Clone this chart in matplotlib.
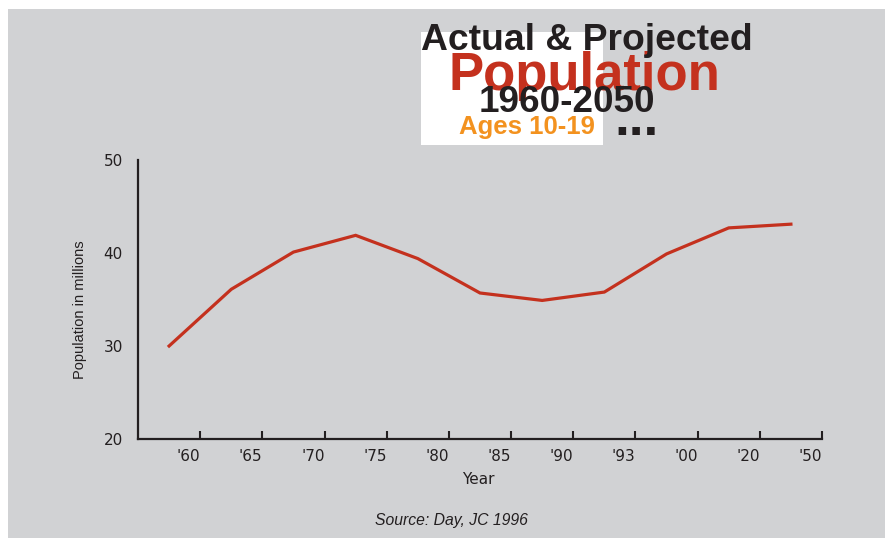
import matplotlib
matplotlib.use("Agg")
import matplotlib.pyplot as plt
import matplotlib.patches as mpatches

# data
tick_labels = ["'60", "'65", "'70", "'75", "'80", "'85", "'90", "'93", "'00", "'20", "'50"]
population = [30.0, 36.1, 40.1, 41.9, 39.4, 35.7, 34.9, 35.8, 39.9, 42.7, 43.1]

W, H = 885, 538
GRAY = "#d1d2d4"
RED = "#c4311e"
ORANGE = "#f3921f"
INK = "#231f20"

plt.rcParams["font.family"] = ["Liberation Sans", "DejaVu Sans"]
WIDE = ["DejaVu Sans"]

fig = plt.figure(figsize=(W / 100, H / 100), dpi=100)
fig.patch.set_facecolor("white")

# gray panel and white title box
fig.patches.append(mpatches.Rectangle((8 / W, 0), 1, 1 - 9 / H, transform=fig.transFigure,
                                      facecolor=GRAY, edgecolor="none", zorder=-10))
fig.patches.append(mpatches.Rectangle((421 / W, 1 - 145 / H), 182 / W, 113 / H,
                                      transform=fig.transFigure, facecolor="white",
                                      edgecolor="none", zorder=-9))

ax = fig.add_axes([138 / W, 1 - 439 / H, 684 / W, 279 / H])
ax.set_facecolor("none")

xs = [i + 0.5 for i in range(len(population))]
ax.plot(xs, population, color=RED, linewidth=2.3, solid_joinstyle="miter")

ax.set_xlim(0, len(tick_labels))
ax.set_ylim(20, 50)
ax.set_xticks(range(1, len(tick_labels) + 1))
ax.set_xticklabels(tick_labels, fontsize=11, color=INK, family=WIDE, ha="right")
ax.set_yticks([20, 30, 40, 50])
ax.set_yticklabels(["20", "30", "40", "50"], fontsize=11, color=INK, family=WIDE)
ax.tick_params(axis="x", direction="in", length=6, width=1.5, color=INK, pad=7)
ax.tick_params(axis="y", length=0, pad=11)

for s in ["top", "right"]:
    ax.spines[s].set_visible(False)
for s in ["left", "bottom"]:
    ax.spines[s].set_linewidth(1.6)
    ax.spines[s].set_color(INK)

ax.set_xlabel("Year", fontsize=11, color=INK, family=WIDE)
ax.xaxis.set_label_coords((478 - 138) / 684, -(472 - 439) / 279)
fig.text(80 / W, 1 - 310 / H, "Population in millions", rotation=90, fontsize=10.5,
         family=["Liberation Sans Narrow", "Liberation Sans"], color=INK,
         ha="center", va="center")

# title block
fig.text(584 / W, 1 - 90 / H, "Population", fontsize=38, fontweight="bold", color=RED,
         ha="center", va="baseline")
fig.text(587 / W, 1 - 50 / H, "Actual & Projected", fontsize=26.8, fontweight="bold",
         color=INK, ha="center", va="baseline")
fig.text(567 / W, 1 - 112 / H, "1960-2050", fontsize=26.6, fontweight="bold", color=INK,
         ha="center", va="baseline")
fig.text(527 / W, 1 - 134 / H, "Ages 10-19", fontsize=18.5, fontweight="bold", color=ORANGE,
         ha="center", va="baseline")
fig.text(636 / W, 1 - 135 / H, "...", fontsize=38, fontweight="bold", color=INK,
         ha="center", va="baseline")

fig.text(451 / W, 1 - 521 / H, "Source: Day, JC 1996", fontsize=11.3, style="italic",
         color=INK, ha="center", va="center")

fig.savefig("out.png", dpi=100)
